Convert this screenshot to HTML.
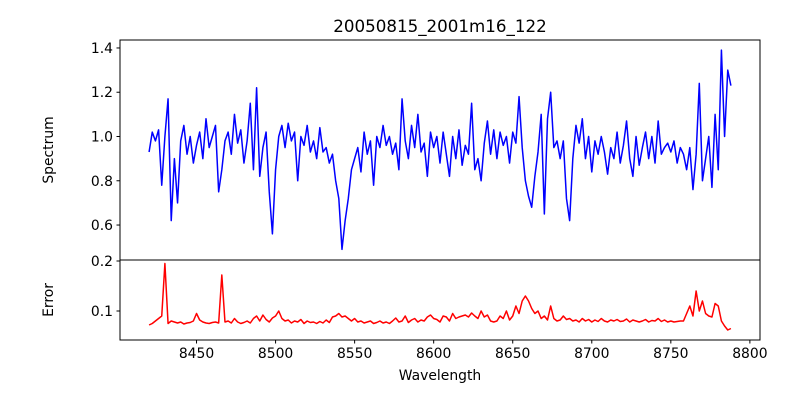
<!DOCTYPE html>
<html><head><meta charset="utf-8"><style>
body{margin:0;background:#fff;}
svg text{font-family:"DejaVu Sans","Liberation Sans",sans-serif;fill:#000;}
</style></head><body>
<svg id="chart" width="800" height="400" viewBox="0 0 800 400" xmlns="http://www.w3.org/2000/svg">
<rect width="800" height="400" fill="#fff"/>
<text x="440" y="32" font-size="16.7" text-anchor="middle">20050815_2001m16_122</text>
<text transform="translate(53,150) rotate(-90)" font-size="13.9" text-anchor="middle">Spectrum</text>
<text transform="translate(53,300) rotate(-90)" font-size="13.9" text-anchor="middle">Error</text>
<text x="440" y="380" font-size="13.9" text-anchor="middle">Wavelength</text>
<g id="topAx"></g><g id="botAx"></g>
</svg>
<script>
const wlStart = 8420, wlStep = 2;
const flux = [
0.93,1.02,0.98,1.03,0.78, 1.0,1.17,0.62,0.9,0.7, 0.98,1.05,0.92,1.0,0.88, 0.96,1.02,0.9,1.08,0.95,
1.0,1.05,0.75,0.85,0.98, 1.02,0.92,1.1,0.97,1.03, 0.88,0.98,1.15,0.85,1.22, 0.82,0.95,1.02,0.75,0.56,
0.85,1.0,1.05,0.95,1.06, 0.98,1.02,0.8,1.0,0.96, 1.05,0.93,0.98,0.9,1.04, 0.93,0.95,0.88,0.92,0.8,
0.72,0.49,0.62,0.72,0.85, 0.9,0.95,0.84,1.02,0.92, 0.98,0.78,1.0,0.95,1.05, 0.96,1.0,0.92,0.97,0.85,
1.17,0.98,0.9,1.05,0.95, 1.1,0.93,0.97,0.82,1.02, 0.95,1.0,0.88,1.02,0.92, 0.82,1.0,0.9,1.03,0.87,
0.96,0.92,1.15,0.85,0.9, 0.8,0.97,1.07,0.92,1.03, 0.9,1.02,0.96,1.0,0.88, 1.02,0.97,1.18,0.95,0.8,
0.73,0.68,0.82,0.93,1.1, 0.65,1.08,1.2,0.95,0.98, 0.9,0.98,0.72,0.62,0.9, 1.05,0.97,1.08,0.9,1.0,
0.84,0.98,0.92,1.0,0.93, 0.83,0.95,0.9,1.02,0.88, 0.96,1.07,0.9,0.82,1.0, 0.87,0.95,1.02,0.9,1.0,
0.88,1.07,0.92,0.95,0.97, 0.93,0.98,0.88,0.95,0.92, 0.85,0.95,0.76,0.92,1.24, 0.8,0.9,1.0,0.77,1.1,
0.85,1.39,1.0,1.3,1.23];
const err = [
.072,.075,.08,.085,.09, .195,.075,.08,.078,.076, .078,.074,.076,.077,.08, .095,.082,.078,.076,.075,
.077,.078,.076,.172,.078, .08,.076,.085,.078,.075, .077,.08,.076,.085,.09, .08,.092,.083,.078,.086,
.09,.1,.085,.08,.082, .076,.08,.078,.083,.075, .08,.077,.078,.075,.079, .076,.082,.077,.088,.09,
.095,.088,.09,.085,.08, .085,.078,.08,.076,.078, .08,.075,.077,.08,.076, .078,.075,.08,.086,.078,
.08,.09,.077,.082,.085, .078,.082,.08,.088,.092, .085,.083,.078,.09,.088, .08,.095,.085,.088,.09,
.092,.088,.096,.09,.085, .1,.088,.092,.08,.078, .08,.09,.085,.1,.082, .09,.11,.095,.12,.13,
.12,.105,.095,.1,.085, .09,.082,.11,.085,.08, .082,.09,.083,.085,.08, .082,.078,.085,.08,.083,
.078,.082,.079,.085,.08, .078,.082,.08,.083,.079, .08,.084,.078,.082,.08, .078,.08,.083,.078,.081,
.08,.085,.079,.082,.078, .08,.078,.079,.08,.08, .095,.11,.09,.14,.1, .12,.095,.09,.088,.115,
.11,.08,.07,.062,.065];
const xTicks = [8450,8500,8550,8600,8650,8700,8750,8800];
const fluxTicks = [0.6,0.8,1.0,1.2,1.4];
const errTicks = [0.1,0.2];

const NS="http://www.w3.org/2000/svg";
const L=120,R=760,TT=40,TB=260,BT=260,BB=340;
const xmin=8401.6,xmax=8806.4;
const X=v=>L+(v-xmin)/(xmax-xmin)*(R-L);
const Yf=v=>TB-(v-0.442)/(1.436-0.442)*(TB-TT);
const Ye=v=>BB-(v-0.042)/(0.202-0.042)*(BB-BT);
function mk(tag,attrs,parent){const e=document.createElementNS(NS,tag);for(const k in attrs)e.setAttribute(k,attrs[k]);parent.appendChild(e);return e;}
const gTop=document.getElementById('topAx'), gBot=document.getElementById('botAx');

let d=flux.map((v,i)=>(i?'L':'M')+X(wlStart+i*wlStep).toFixed(2)+' '+Yf(v).toFixed(2)).join('');
const sp=mk('path',{d:d,fill:'none',stroke:'#0000ff','stroke-width':1.5,'stroke-linejoin':'round'},gTop);


d=err.map((v,i)=>(i?'L':'M')+X(wlStart+i*wlStep).toFixed(2)+' '+Ye(v).toFixed(2)).join('');
const ep=mk('path',{d:d,fill:'none',stroke:'#ff0000','stroke-width':1.5,'stroke-linejoin':'round'},gBot);



const f1=mk('rect',{x:L,y:TT,width:R-L,height:TB-TT,fill:'none',stroke:'#000','stroke-width':1},gTop);


const f2=mk('rect',{x:L,y:BT,width:R-L,height:BB-BT,fill:'none',stroke:'#000','stroke-width':1},gBot);



fluxTicks.forEach(t=>{const y=Yf(t);
 mk('line',{x1:L-3.5,x2:L,y1:y,y2:y,stroke:'#000'},gTop);
 const tx=mk('text',{x:L-7,y:y+5,'font-size':13.9,'text-anchor':'end'},gTop);tx.textContent=t.toFixed(1);
 
 });
errTicks.forEach(t=>{const y=Ye(t);
 mk('line',{x1:L-3.5,x2:L,y1:y,y2:y,stroke:'#000'},gBot);
 const tx=mk('text',{x:L-7,y:y+5,'font-size':13.9,'text-anchor':'end'},gBot);tx.textContent=t.toFixed(1);
 
 });
xTicks.forEach(t=>{const x=X(t);
 mk('line',{x1:x,x2:x,y1:BB,y2:BB+3.5,stroke:'#000'},gBot);
 const tx=mk('text',{x:x,y:BB+18,'font-size':13.9,'text-anchor':'middle'},gBot);tx.textContent=t;
 
 });
</script>
</body></html>
